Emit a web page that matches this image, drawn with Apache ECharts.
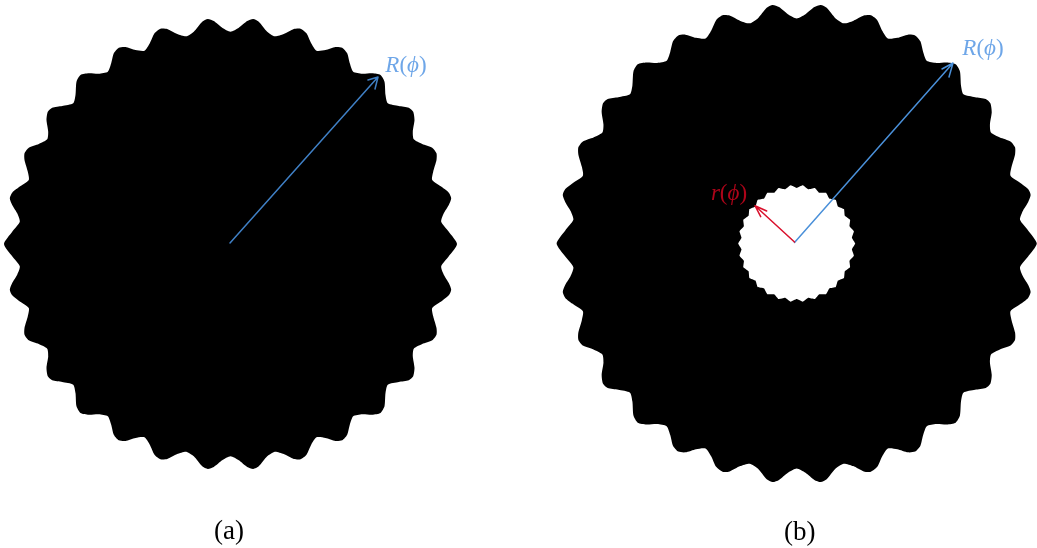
<!DOCTYPE html>
<html><head><meta charset="utf-8">
<style>html,body{margin:0;padding:0;background:#fff}#c{width:1037px;height:548px}</style>
<script src="https://cdn.jsdelivr.net/npm/echarts@6/dist/echarts.min.js"></script>
</head><body><div id="c"></div>
<script>
const outerX = [-226.5,-218.3,-210.7,-213.3,-218.3,-220.7,-218.3,-211.7,-201.7,-202.7,-206,-206,-201.7,-191.7,-183.3,-182.3,-184,-182.7,-178.3,-168.3,-157.3,-155,-154,-150,-141.7,-131.7,-122.7,-119.3,-116.7,-111.7,-105,-95,-86,-80.7,-76,-70,-63.3,-53.3,-44.3,-36.7,-28.3,-22.7,-16.7,-8.3,0];
const outerY = [0,-12.3,-22.3,-30.7,-39,-45.7,-51.3,-56.7,-64,-72.3,-84,-90.7,-96.3,-100,-104.7,-112.3,-124,-132.3,-136.3,-138,-140.7,-149,-162.3,-169,-170.7,-170.3,-172.3,-180.7,-190.7,-196.3,-197,-194,-193.3,-200.7,-210.7,-215.3,-215,-210,-207.7,-212.3,-222.3,-225,-223,-216.3,-212.3];
const outerScaleB = 1.06; // disc (b) is drawn a little larger than disc (a)
const innerX = [-58.5,-55.2,-57.2,-52.8,-53.4,-48.1,-47.3,-41.2,-39.1,-32.6,-29.3,-22.6,-18.1,-11.5,-6.1,0];
const innerY = [0,-5.8,-12.2,-17.2,-23.8,-27.8,-34.4,-37.1,-43.5,-44.9,-50.7,-50.7,-55.6,-54.3,-58.2,-55.5];
const arrowA = [[-0.5,-1],[147.5,-167],[137.5,-164],[147.5,-167],[144.5,-155]];
const arrowBOuter = [[-2.2,-1],[156.3,-180.5],[145.3,-174.5],[156.3,-180.5],[152.3,-166.5]];
const arrowBInner = [[-2.2,-1.5],[-41.7,-37.8],[-30,-32.5],[-41.7,-37.8],[-36,-26.8]];
const labelA = [175.5,-178];
const labelBOuter = [186.3,-194.5];
const labelBInner = [-67.7,-49.5];
const panelNames = ['(a)','(b)'];

function fullRing(qx,qy){
  const pts = qx.map((x,i)=>[x,qy[i]]);
  const ur = pts.slice(0,-1).reverse().map(p=>[-p[0],p[1]]);
  const upper = pts.concat(ur);
  const lower = upper.slice(1,-1).reverse().map(p=>[p[0],-p[1]]);
  return upper.concat(lower);
}
const ringA = fullRing(outerX,outerY);
const ringB = fullRing(outerX.map(v=>v*outerScaleB),outerY.map(v=>v*outerScaleB));
const ringInner = fullRing(innerX,innerY);

function blob(name,ring,idx,color,smooth,z){
  return {type:'custom',name,coordinateSystem:'cartesian2d',xAxisIndex:idx,yAxisIndex:idx,data:ring,z,silent:true,animation:false,
    renderItem(params,api){
      if(params.dataIndex!==0) return null;
      return {type:'polygon',shape:{points:ring.map(p=>api.coord(p)),smooth},style:{fill:color}};
    }};
}
function arrow(name,pts,idx,color,z){
  return {type:'line',name,xAxisIndex:idx,yAxisIndex:idx,data:pts,symbol:'none',smooth:false,z,silent:true,animation:false,
    lineStyle:{color,width:1.5,cap:'round',join:'round'}};
}
function tag(name,pos,idx,sym,color){
  return {type:'scatter',name,xAxisIndex:idx,yAxisIndex:idx,data:[pos],symbolSize:0,z:5,silent:true,animation:false,
    label:{show:true,position:'inside',formatter:'{i|'+sym+'}{n|(}{i|ϕ}{n|)}',
      rich:{i:{fontFamily:'Liberation Serif',fontStyle:'italic',fontSize:23,color},n:{fontFamily:'Liberation Serif',fontSize:23,color}}}};
}
function xAxis(idx,half){
  return {type:'value',gridIndex:idx,min:-half,max:half,position:'bottom',name:panelNames[idx],nameLocation:'middle',nameGap:idx?32:30,
    nameTextStyle:{fontFamily:'Liberation Serif',fontSize:27,color:'#000',padding:idx?[0,0,0,6]:[0,3,0,0]},
    axisLine:{show:false,onZero:false},axisTick:{show:false},axisLabel:{show:false},splitLine:{show:false}};
}
function yAxis(idx,half){
  return {type:'value',gridIndex:idx,min:-half,max:half,inverse:true,show:false,splitLine:{show:false}};
}
const chart = echarts.init(document.getElementById('c'),null,{renderer:'canvas'});
chart.setOption({
  backgroundColor:'#fff',animation:false,
  grid:[{left:0,top:0,width:461,height:488,outerBoundsMode:'none',containLabel:false},{left:556.7,top:0,width:480,height:487,outerBoundsMode:'none',containLabel:false}],
  xAxis:[xAxis(0,230.5),xAxis(1,240)],
  yAxis:[yAxis(0,244),yAxis(1,243.5)],
  series:[
    blob('R(phi) a',ringA,0,'#000',0.22,1),
    blob('R(phi) b',ringB,1,'#000',0.22,1),
    blob('r(phi) b',ringInner,1,'#fff',0.1,2),
    arrow('arrow a',arrowA,0,'#3f7fc4',3),
    arrow('arrow b outer',arrowBOuter,1,'#4a90d9',3),
    arrow('arrow b inner',arrowBInner,1,'#d9102c',4),
    tag('label a',labelA,0,'R','#4a90e2'),
    tag('label b outer',labelBOuter,1,'R','#4a90e2'),
    tag('label b inner',labelBInner,1,'r','#d8051f')
  ]
});
</script></body></html>
